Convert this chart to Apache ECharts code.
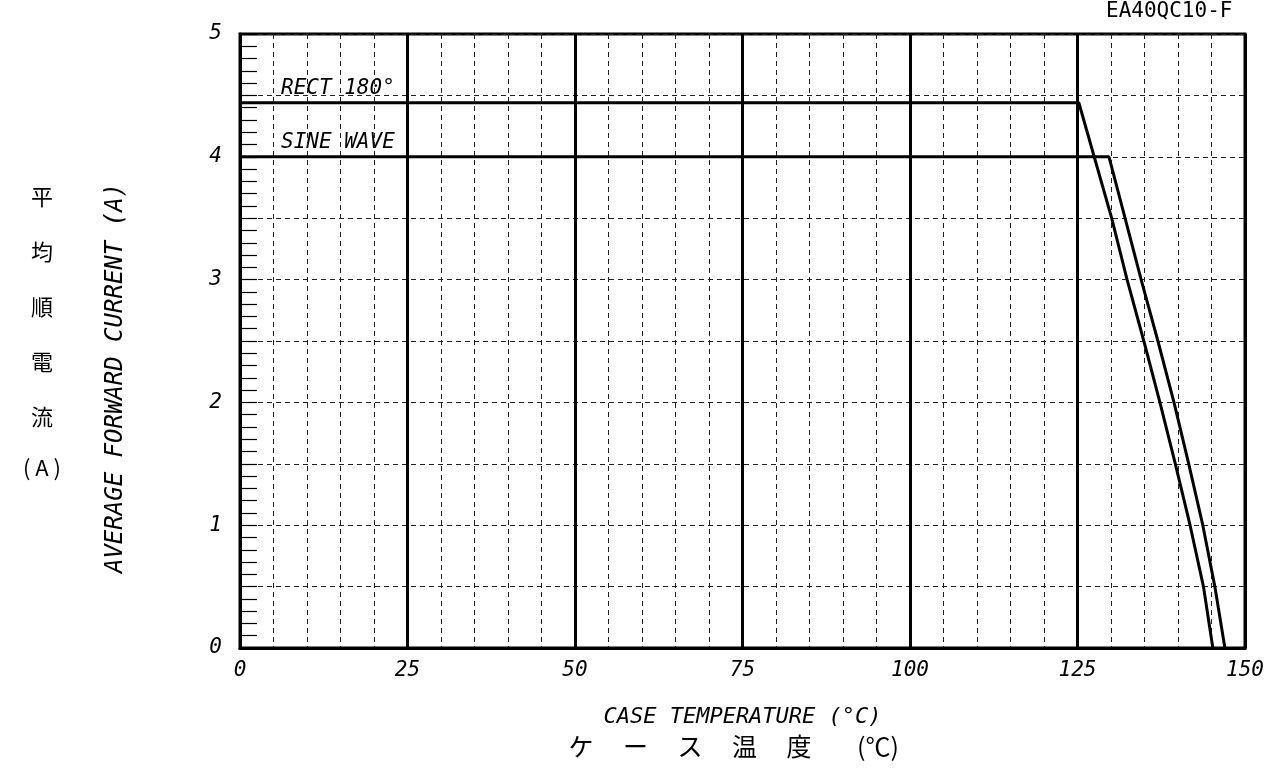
<!DOCTYPE html>
<html><head><meta charset="utf-8">
<script src="https://cdn.jsdelivr.net/npm/echarts@6/dist/echarts.min.js"></script>
<style>html,body{margin:0;padding:0;background:#fff}#c{width:1283px;height:769px}</style>
</head><body><div id="c"></div>
<script>
// Data
const rectTemp    = [0, 125.2, 130.1, 132.4, 134.9, 137.3, 139.6, 141.8, 143.8, 145.2];
const rectCurrent = [4.44, 4.44, 3.5, 3.0, 2.5, 2.0, 1.5, 1.0, 0.5, 0.0];
const sineTemp    = [0, 129.7, 132.1, 134.5, 137.0, 139.4, 141.6, 143.7, 145.5, 147.0];
const sineCurrent = [4.0, 4.0, 3.5, 3.0, 2.5, 2.0, 1.5, 1.0, 0.5, 0.0];
const xTicks = [0, 25, 50, 75, 100, 125, 150];
const yTicks = [0, 1, 2, 3, 4, 5];
const seriesNames = ['RECT 180°', 'SINE WAVE'];
const jpXTitle = ['ケ', 'ー', 'ス', '温', '度', '(℃)'];
const jpYTitle = ['平', '均', '順', '電', '流', '( A )'];
const yTitle = 'AVERAGE FORWARD CURRENT (A)';

const FONT = "'DejaVu Sans Mono','Liberation Mono',monospace";
const CJK = "'Noto Sans CJK JP','Noto Sans CJK SC',sans-serif";
const pairs = (xs, ys) => xs.map((x, i) => [x, ys[i]]);

const graphics = [
  {type: 'text', left: 281, top: 78, style: {text: seriesNames[0], font: "italic 21px " + FONT, fill: '#000'}},
  {type: 'text', left: 281, top: 132, style: {text: seriesNames[1], font: "italic 21px " + FONT, fill: '#000'}},
  {type: 'text', left: 1106, top: 1, style: {text: 'EA40QC10-F', font: "21px " + FONT, fill: '#000'}},
  {type: 'text', x: 116, y: 378, rotation: Math.PI / 2,
   style: {text: yTitle, font: "italic 24px " + FONT, fill: '#000', align: 'center', verticalAlign: 'middle'}}
];
jpXTitle.forEach((ch, i) => graphics.push({type: 'text', x: i === 5 ? 878 : 581 + i * 54.5, y: 746,
  style: {text: ch, font: "25px " + CJK, fill: '#000', align: 'center', verticalAlign: 'middle'}}));
jpYTitle.forEach((ch, i) => graphics.push({type: 'text', x: 42, y: 197 + i * 55 - (i === 5 ? 4 : 0),
  style: {text: ch, font: "22px " + CJK, fill: '#000', align: 'center', verticalAlign: 'middle'}}));

const chart = echarts.init(document.getElementById('c'), null, {renderer: 'canvas'});
chart.setOption({
  animation: false,
  backgroundColor: '#fff',
  grid: {left: 240, right: 38, top: 34, bottom: 121, show: true, borderColor: '#000', borderWidth: 3, backgroundColor: 'transparent'},
  xAxis: {
    type: 'value', min: xTicks[0], max: xTicks[xTicks.length - 1], interval: 25,
    name: 'CASE TEMPERATURE (°C)', nameLocation: 'middle', nameGap: 58,
    nameTextStyle: {fontFamily: FONT, fontStyle: 'italic', fontSize: 22, color: '#000'},
    axisLine: {show: true, lineStyle: {color: '#000', width: 3}},
    axisTick: {show: false},
    axisLabel: {fontFamily: FONT, fontStyle: 'italic', fontSize: 21, color: '#000', margin: 12},
    splitLine: {show: true, lineStyle: {color: '#000', width: 3, type: 'solid'}},
    minorTick: {show: false, splitNumber: 5},
    minorSplitLine: {show: true, lineStyle: {color: '#222', width: 1, type: [5, 4]}}
  },
  yAxis: {
    type: 'value', min: yTicks[0], max: yTicks[yTicks.length - 1], interval: 0.5,
    axisLine: {show: true, lineStyle: {color: '#000', width: 3}},
    axisTick: {show: true, inside: true, length: 17, lineStyle: {color: '#000', width: 1.2}},
    minorTick: {show: true, splitNumber: 5, length: 17, lineStyle: {color: '#000', width: 1.2}},
    axisLabel: {fontFamily: FONT, fontStyle: 'italic', fontSize: 21, color: '#000', margin: 18,
      formatter: v => (yTicks.indexOf(v) >= 0 ? String(v) : '')},
    splitLine: {show: true, lineStyle: {color: '#222', width: 1, type: [5, 4]}}
  },
  series: [
    {name: seriesNames[0], type: 'line', data: pairs(rectTemp, rectCurrent), showSymbol: false,
     lineStyle: {color: '#000', width: 3}, z: 5},
    {name: seriesNames[1], type: 'line', data: pairs(sineTemp, sineCurrent), showSymbol: false,
     lineStyle: {color: '#000', width: 3}, z: 5}
  ],
  graphic: graphics
});
</script></body></html>
